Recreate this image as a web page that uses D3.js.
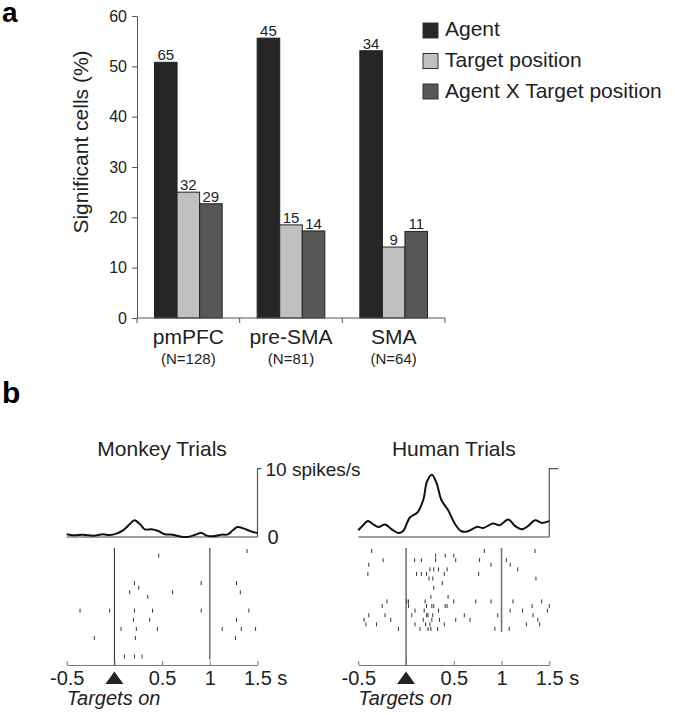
<!DOCTYPE html>
<html>
<head>
<meta charset="utf-8">
<script src="https://cdn.jsdelivr.net/npm/d3@7"></script>
<style>
  body { margin: 0; background: #fff; }
  svg { display: block; font-family: 'Liberation Sans', Arial, sans-serif; }
</style>
</head>
<body>
<div id="chart"></div>
<script>
// ---- panel a data ----
const regions = ['pmPFC', 'pre-SMA', 'SMA'];
const regionN = ['(N=128)', '(N=81)', '(N=64)'];
const factors = ['Agent', 'Target position', 'Agent X Target position'];
const agentPct = [50.8, 55.6, 53.1];
const targetPct = [25.0, 18.5, 14.1];
const interactionPct = [22.7, 17.3, 17.2];
const agentCounts = [65, 45, 34];
const targetCounts = [32, 15, 9];
const interactionCounts = [29, 14, 11];
const pctTicks = [0, 10, 20, 30, 40, 50, 60];

// ---- panel b data ----
const timeTicks = [-0.5, 0, 0.5, 1, 1.5];
const timeTickLabels = ['-0.5', '', '0.5', '1', '1.5 s'];

const monkeyPsthTime = [-0.5, -0.43, -0.33, -0.22, -0.12, -0.05, 0.02, 0.09, 0.16, 0.21, 0.27, 0.32, 0.39, 0.46, 0.53, 0.61, 0.68, 0.77, 0.86, 0.91, 0.96, 1.03, 1.12, 1.19, 1.24, 1.29, 1.36, 1.43, 1.5];
const monkeyPsthRate = [0.39, 0.24, 0.34, 0.2, 0.39, 0.29, 0.49, 0.98, 1.85, 2.44, 1.85, 1.12, 1.12, 0.88, 0.39, 0.34, 0.1, 0.0, 0.39, 0.63, 0.24, 0.1, 0.34, 0.39, 0.98, 1.46, 1.22, 0.83, 0.59];

const humanPsthTime = [-0.5, -0.45, -0.4, -0.34, -0.29, -0.22, -0.15, -0.08, -0.03, 0.04, 0.12, 0.18, 0.22, 0.27, 0.32, 0.37, 0.44, 0.51, 0.58, 0.65, 0.74, 0.81, 0.91, 0.98, 1.07, 1.14, 1.21, 1.28, 1.35, 1.42, 1.5];
const humanPsthRate = [0.99, 1.72, 2.36, 1.82, 1.48, 1.82, 1.13, 0.59, 0.89, 2.86, 3.6, 5.42, 8.13, 9.11, 7.88, 5.42, 3.94, 1.97, 0.84, 0.84, 1.48, 1.33, 1.97, 1.72, 2.56, 1.63, 1.13, 1.63, 2.46, 2.07, 2.32];

// [trial, spike time (s)]
const monkeyRaster = [
  [0, 1.39], [1, 0.465],
  [7, 0.21], [7, 0.91], [7, 1.28],
  [8, 0.255],
  [9, 0.16], [9, 0.61], [9, 1.32],
  [10, 0.35],
  [13, -0.36], [13, -0.05], [13, 0.21], [13, 0.4], [13, 0.91], [13, 1.41],
  [15, 0.2], [15, 0.37], [15, 1.28],
  [17, 0.07], [17, 0.23], [17, 0.45], [17, 1.13], [17, 1.33], [17, 1.48],
  [19, -0.21], [19, 0.22], [19, 1.27],
  [23, 0.105], [23, 0.21], [23, 0.29],
];
const humanRaster = [
  [0, -0.36], [0, 0.82], [0, 1.35],
  [1, 0.31], [1, 0.41], [1, 0.5],
  [2, -0.24], [2, 0.09], [2, 0.16], [2, 0.31], [2, 0.52], [2, 0.77], [2, 1.05],
  [3, -0.39], [3, 0.89], [3, 1.09],
  [4, 0.25], [4, 0.29], [4, 0.34], [4, 0.43], [4, 1.17],
  [5, -0.4], [5, 0.11], [5, 0.16], [5, 0.215], [5, 0.4], [5, 0.76],
  [6, 0.24], [6, 0.28], [6, 1.36],
  [7, 0.38],
  [8, 0.29],
  [10, 0.26], [10, 0.44],
  [11, -0.2], [11, 0.007], [11, 0.025], [11, 0.2], [11, 0.5], [11, 0.73], [11, 0.89], [11, 1.12], [11, 1.42],
  [12, -0.25], [12, 0.025], [12, 0.215], [12, 0.27], [12, 0.29], [12, 0.41], [12, 0.43], [12, 1.32], [12, 1.5],
  [13, 0.094], [13, 0.19], [13, 0.34], [13, 1.09], [13, 1.22], [13, 1.48],
  [14, -0.39], [14, -0.22], [14, 0.06], [14, 0.215], [14, 0.23], [14, 0.28], [14, 0.61], [14, 0.96], [14, 1.33],
  [15, -0.44], [15, -0.16], [15, 0.18], [15, 0.27], [15, 0.35], [15, 0.52], [15, 0.67], [15, 1.38],
  [16, -0.42], [16, -0.31], [16, 0.094], [16, 0.205], [16, 0.25], [16, 0.4], [16, 1.26], [16, 1.4],
  [17, -0.08], [17, 0.146], [17, 0.23], [17, 0.26], [17, 0.33], [17, 0.93], [17, 1.08],
];

const factorColors = ['#262626', '#c0c0c0', '#575757'];

const svg = d3.select('#chart').append('svg').attr('width', 675).attr('height', 715);
svg.append('rect').attr('width', 675).attr('height', 715).attr('fill', '#fff');

// ================= panel a =================
svg.append('text').attr('x', 2).attr('y', 22).style('font-size', '28px').style('font-weight', 'bold').text('a');

const y = d3.scaleLinear().domain([0, 60]).range([318, 16]);
const x0 = d3.scaleBand().domain(regions).range([137, 445]);
const x1 = d3.scaleBand().domain(factors).range([17.5, x0.bandwidth() - 17.5]);

const barData = regions.flatMap((region, i) => [
  { region, factor: factors[0], pct: agentPct[i], count: agentCounts[i] },
  { region, factor: factors[1], pct: targetPct[i], count: targetCounts[i] },
  { region, factor: factors[2], pct: interactionPct[i], count: interactionCounts[i] },
]);

// Add Y axis
const yAxis = svg
  .append('g')
  .attr('transform', 'translate(137,0)')
  .call(d3.axisLeft(y).tickValues(pctTicks).tickSize(5).tickSizeOuter(0).tickPadding(5));
yAxis.select('.domain').attr('stroke', '#555');
yAxis.selectAll('.tick line').attr('stroke', '#555');
yAxis.selectAll('.tick text').style('font-size', '16px').attr('fill', '#222').attr('font-family', null);

svg
  .append('text')
  .attr('transform', 'translate(88,142) rotate(-90)')
  .attr('text-anchor', 'middle')
  .style('font-size', '21px')
  .attr('fill', '#222')
  .text('Significant cells (%)');

// Add the bars
svg
  .append('g')
  .selectAll('rect')
  .data(barData)
  .enter()
  .append('rect')
  .attr('x', (d) => x0(d.region) + x1(d.factor))
  .attr('y', (d) => y(d.pct))
  .attr('width', x1.bandwidth())
  .attr('height', (d) => y(0) - y(d.pct))
  .attr('fill', (d) => factorColors[factors.indexOf(d.factor)])
  .attr('stroke', '#222')
  .attr('stroke-width', 1);

// counts above bars
svg
  .append('g')
  .selectAll('text')
  .data(barData)
  .enter()
  .append('text')
  .attr('x', (d) => x0(d.region) + x1(d.factor) + x1.bandwidth() / 2)
  .attr('y', (d) => y(d.pct) - 2)
  .attr('text-anchor', 'middle')
  .style('font-size', '15px')
  .attr('fill', '#222')
  .text((d) => d.count);

// X axis line and ticks at group boundaries
svg
  .append('line')
  .attr('x1', x0.range()[0])
  .attr('x2', x0.range()[1])
  .attr('y1', y(0))
  .attr('y2', y(0))
  .attr('stroke', '#555');
const boundaries = [...regions.map((r) => x0(r)), x0.range()[1]];
svg
  .append('g')
  .selectAll('line')
  .data(boundaries)
  .enter()
  .append('line')
  .attr('x1', (d) => d)
  .attr('x2', (d) => d)
  .attr('y1', y(0))
  .attr('y2', y(0) + 5)
  .attr('stroke', '#555');

regions.forEach((region, i) => {
  const cx = x0(region) + x0.bandwidth() / 2;
  svg.append('text').attr('x', cx).attr('y', 344).attr('text-anchor', 'middle').style('font-size', '21px').attr('fill', '#222').text(region);
  svg.append('text').attr('x', cx).attr('y', 364).attr('text-anchor', 'middle').style('font-size', '15px').attr('fill', '#222').text(regionN[i]);
});

// legend
const legend = svg.append('g').selectAll('g').data(factors).enter().append('g');
legend
  .append('rect')
  .attr('x', 423)
  .attr('y', (d, i) => 23 + i * 30.5)
  .attr('width', 15)
  .attr('height', 15)
  .attr('fill', (d, i) => factorColors[i])
  .attr('stroke', '#333');
legend
  .append('text')
  .attr('x', 445)
  .attr('y', (d, i) => 36 + i * 31)
  .style('font-size', '21px')
  .attr('fill', '#222')
  .text((d) => d);

// ================= panel b =================
svg.append('text').attr('x', 2).attr('y', 403).style('font-size', '30px').style('font-weight', 'bold').text('b');

function drawUnit({ title, range, psthTime, psthRate, raster, scaleTick, scaleLabel }) {
  const x = d3.scaleLinear().domain([-0.5, 1.5]).range(range);
  const yRate = d3.scaleLinear().domain([0, 10]).range([537, 468.7]);
  const yTrial = d3.scaleLinear().domain([0, 23]).range([551, 656.5]);
  const g = svg.append('g');

  // title
  g.append('text')
    .attr('x', x(0.5))
    .attr('y', 456)
    .attr('text-anchor', 'middle')
    .style('font-size', '21px')
    .attr('fill', '#222')
    .text(title);

  // psth baseline + scale bar
  g.append('line').attr('x1', x(-0.5)).attr('x2', x(1.5)).attr('y1', yRate(0)).attr('y2', yRate(0)).attr('stroke', '#444').attr('stroke-width', 1.2);
  g.append('path')
    .attr('d', `M${x(1.5)},${yRate(0)}V${yRate(10)}h${scaleTick}`)
    .attr('fill', 'none')
    .attr('stroke', '#555')
    .attr('stroke-width', 1.2);
  if (scaleLabel) {
    g.append('text').attr('x', x(1.5) + 8).attr('y', yRate(10) + 7).style('font-size', '19px').attr('fill', '#222').text('10 spikes/s');
    g.append('text').attr('x', x(1.5) + 10).attr('y', yRate(0) + 7).style('font-size', '20px').attr('fill', '#222').text('0');
  }

  // psth curve
  const psth = psthTime.map((t, i) => ({ t, r: psthRate[i] }));
  g.append('path')
    .datum(psth)
    .attr('fill', 'none')
    .attr('stroke', '#111')
    .attr('stroke-width', 2)
    .attr(
      'd',
      d3
        .line()
        .x((d) => x(d.t))
        .y((d) => yRate(d.r))
        .curve(d3.curveCatmullRom)
    );

  // event lines
  const lastTrial = d3.max(raster, (d) => d[0]);
  g.append('line').attr('x1', x(0)).attr('x2', x(0)).attr('y1', 548).attr('y2', 665).attr('stroke', '#222').attr('stroke-width', 1);
  g.append('line').attr('x1', x(1)).attr('x2', x(1)).attr('y1', 548).attr('y2', yTrial(lastTrial) + 3).attr('stroke', '#777').attr('stroke-width', 1.6);

  // spikes
  g.append('g')
    .selectAll('line')
    .data(raster)
    .enter()
    .append('line')
    .attr('x1', (d) => x(d[1]))
    .attr('x2', (d) => x(d[1]))
    .attr('y1', (d) => yTrial(d[0]) - 2)
    .attr('y2', (d) => yTrial(d[0]) + 2)
    .attr('stroke', '#333')
    .attr('stroke-width', 1);

  // time axis
  const axis = g
    .append('g')
    .attr('transform', 'translate(0,665)')
    .call(
      d3
        .axisBottom(x)
        .tickValues(timeTicks)
        .tickSize(-4)
        .tickSizeOuter(0)
        .tickPadding(6)
        .tickFormat((d, i) => timeTickLabels[i])
    );
  axis.select('.domain').attr('stroke', '#777');
  axis.selectAll('.tick line').attr('stroke', '#777');
  axis.selectAll('.tick text').style('font-size', '20px').attr('fill', '#222').attr('font-family', null);
  axis
    .selectAll('.tick text')
    .filter((d) => d === 1.5)
    .attr('text-anchor', 'start')
    .attr('x', -14);

  // targets on marker
  g.append('path')
    .attr('d', `M${x(0) - 9},684L${x(0) + 9},684L${x(0)},671.5Z`)
    .attr('fill', '#222');
  g.append('text')
    .attr('x', x(-0.5))
    .attr('y', 705)
    .style('font-size', '20px')
    .style('font-style', 'italic')
    .attr('fill', '#222')
    .text('Targets on');
}

drawUnit({ title: 'Monkey Trials', range: [66.7, 257.5], psthTime: monkeyPsthTime, psthRate: monkeyPsthRate, raster: monkeyRaster, scaleTick: 4, scaleLabel: true });
drawUnit({ title: 'Human Trials', range: [358.3, 549.3], psthTime: humanPsthTime, psthRate: humanPsthRate, raster: humanRaster, scaleTick: 9, scaleLabel: false });
</script>
</body>
</html>
